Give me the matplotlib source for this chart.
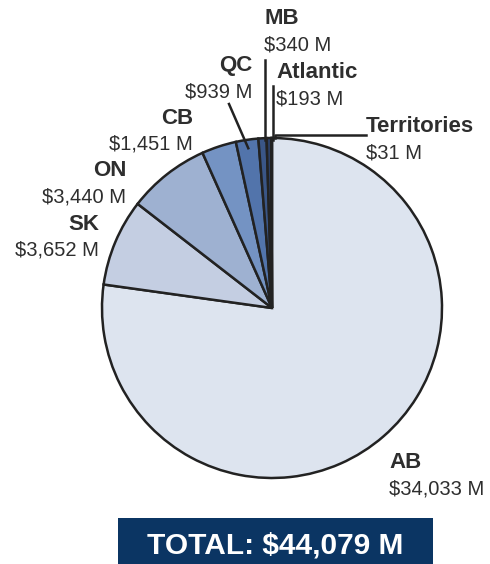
import numpy as np
import matplotlib
matplotlib.use("Agg")
from matplotlib import pyplot as plt
from matplotlib.patches import Rectangle

plt.rcParams['font.family'] = ['Liberation Sans', 'DejaVu Sans']

regions = ['AB', 'SK', 'ON', 'CB', 'QC', 'MB', 'Atlantic', 'Territories']
values = [34033, 3652, 3440, 1451, 939, 340, 193, 31]
colors = ['#dde4ef', '#c4cee2', '#9eb1d1', '#7493c3', '#5274ab', '#3a5687', '#2b3e64', '#e8edf4']
total = sum(values)

W, H = 490, 564
fig = plt.figure(figsize=(W / 100, H / 100), dpi=100)
ax = fig.add_axes([0, 0, 1, 1])

cx, cy, r = 272, H - 308, 170
ax.pie(values, colors=colors, startangle=90, counterclock=False,
       center=(cx, cy), radius=r, frame=True,
       wedgeprops=dict(edgecolor='#222222', linewidth=1.8))
ax.set_xlim(0, W)
ax.set_ylim(0, H)
ax.set_aspect('equal')
ax.axis('off')

# mid angle of each wedge (degrees, math convention)
frac = np.cumsum(values) / total
mid = 90 - 360 * (frac - np.array(values) / total / 2)

def edge_pt(i, rr=1.0):
    a = np.radians(mid[i])
    return cx + rr * r * np.cos(a), cy + rr * r * np.sin(a)

# label anchor (x, y of name, alignment) in pixel space, y from top
labels = {
    'AB': (389, 463, 'left'),
    'SK': (99, 224, 'right'),
    'ON': (126, 171, 'right'),
    'CB': (193, 118, 'right'),
    'QC': (252, 66, 'right'),
    'MB': (264, 19, 'left'),
    'Atlantic': (276, 73, 'left'),
    'Territories': (366, 127, 'left'),
}
txt = '#2e2e2e'
for i, name in enumerate(regions):
    x, y, ha = labels[name]
    ax.text(x, H - y, name, ha=ha, va='center', fontsize=16, fontweight='bold', color=txt)
    ax.text(x, H - y - 26, f'${values[i]:,} M', ha=ha, va='center', fontsize=14.5, color=txt)

# leader lines for the thin wedges
lc = dict(color='#222222', lw=1.8)
x0, y0 = edge_pt(regions.index('QC'), 0.95)
ax.plot([229, x0], [H - 104, y0], **lc)
x0, y0 = edge_pt(regions.index('MB'), 0.99)
ax.plot([265, 265], [H - 60, y0], **lc)
x0, y0 = edge_pt(regions.index('Atlantic'), 0.99)
ax.plot([273, 273], [H - 86, y0], **lc)
x0, y0 = edge_pt(regions.index('Territories'), 1.0)
ax.plot([275, 275, 366], [y0, H - 135, H - 135], **lc)

# total banner
ax.add_patch(Rectangle((118, 0), 315, H - 518, facecolor='#0b3563', edgecolor='none'))
ax.text(275, H - 545, f'TOTAL: ${total:,} M', ha='center', va='center',
        fontsize=21.5, fontweight='bold', color='white')

fig.savefig('out.png', dpi=100)
